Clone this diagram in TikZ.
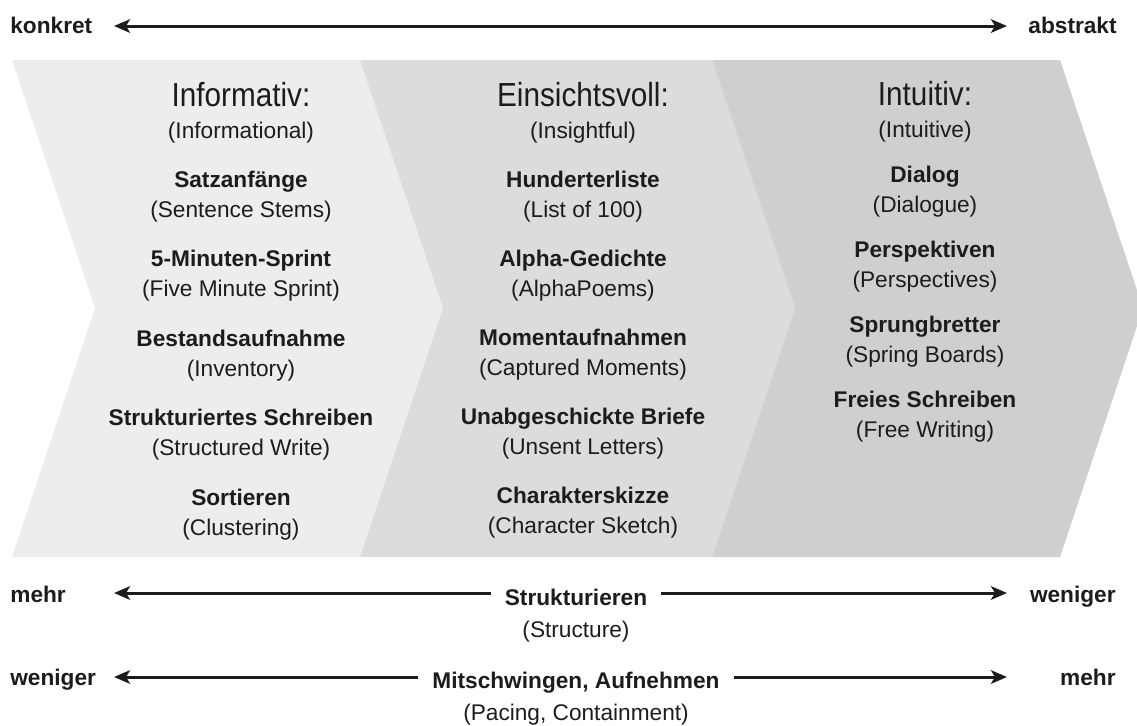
\documentclass[tikz,border=0pt]{standalone}
\usepackage{fontspec}
\setmainfont{Liberation Sans}
\newfontfamily\headfont[FakeStretch=0.89]{Liberation Sans}
\usetikzlibrary{arrows.meta,positioning}
\definecolor{Ink}{HTML}{1C1C1C}
\definecolor{StepA}{HTML}{EDEDED}
\definecolor{StepB}{HTML}{DCDCDC}
\definecolor{StepC}{HTML}{CFCFCF}
\tikzset{
  method/.style={anchor=base,inner sep=0pt,text=Ink,font=\fontsize{12.9}{15}\selectfont\bfseries},
  gloss/.style={anchor=base,inner sep=0pt,text=Ink,font=\fontsize{12.9}{15}\selectfont},
  heading/.style={anchor=base,inner sep=0pt,text=Ink,font=\headfont\fontsize{19}{22}\selectfont},
  scalearrow/.style={line width=1.7pt,draw=Ink,{Stealth[length=0.32cm,width=0.27cm,inset=0.08cm]}-{Stealth[length=0.32cm,width=0.27cm,inset=0.08cm]}},
  onarrow/.style={method,fill=white,inner xsep=0.28cm,inner ysep=0pt}
}

\begin{document}
\begin{tikzpicture}[x=0.02cm,y=-0.02cm]
    \useasboundingbox (0,0) rectangle (1137,725);
    % chevrons
    \begin{scope}
      \clip (0,0) rectangle (1137,725);
      \fill[StepA] (12,60) -- (360,60) -- (443,308) -- (360,557) -- (12,557) -- (95,308) -- cycle;
      \fill[StepB] (360,60) -- (712,60) -- (795,308) -- (712,557) -- (360,557) -- (443,308) -- cycle;
      \fill[StepC] (712,60) -- (1060,60) -- (1143,308) -- (1060,557) -- (712,557) -- (795,308) -- cycle;
    \end{scope}

    % konkret -- abstrakt
    \node[method,anchor=base west] (konkret) at (10,33) {konkret};
    \node[method,anchor=base east] (abstrakt) at (1117,33) {abstrakt};
    \coordinate (top-l) at (114,26);
    \coordinate (top-r) at (1007,26);
    \draw[scalearrow] (top-l) -- (top-r);

    % columns
    \node[heading] (informativ) at (241,106) {Informativ:};
    \node[gloss] (informational) at (241,138) {(Informational)};
    \foreach \m/\g [count=\i from 0] in {Satzanfänge/(Sentence Stems),5-Minuten-Sprint/(Five Minute Sprint),Bestandsaufnahme/(Inventory),Strukturiertes Schreiben/(Structured Write),Sortieren/(Clustering)}
    {
      \node[method] (info-m\i) at (241,{187+79.5*\i}) {\m};
      \node[gloss] (info-g\i) at (241,{217+79.5*\i}) {\g};
    }

    \node[heading] (einsichtsvoll) at (583,106) {Einsichtsvoll:};
    \node[gloss] (insightful) at (583,138) {(Insightful)};
    \foreach \m/\g [count=\i from 0] in {Hunderterliste/(List of 100),Alpha-Gedichte/(AlphaPoems),Momentaufnahmen/(Captured Moments),Unabgeschickte Briefe/(Unsent Letters),Charakterskizze/(Character Sketch)}
    {
      \node[method] (ein-m\i) at (583,{187+79*\i}) {\m};
      \node[gloss] (ein-g\i) at (583,{217+79*\i}) {\g};
    }

    \node[heading] (intuitiv) at (925,105) {Intuitiv:};
    \node[gloss] (intuitive) at (925,137) {(Intuitive)};
    \foreach \m/\g [count=\i from 0] in {Dialog/(Dialogue),Perspektiven/(Perspectives),Sprungbretter/(Spring Boards),Freies Schreiben/(Free Writing)}
    {
      \node[method] (int-m\i) at (925,{182+75*\i}) {\m};
      \node[gloss] (int-g\i) at (925,{212+75*\i}) {\g};
    }

    % structure
    \node[method,anchor=base west] (mehr-a) at (10,602) {mehr};
    \node[method,anchor=base east] (weniger-a) at (1116,602) {weniger};
    \coordinate (struct-l) at (114,593);
    \coordinate (struct-r) at (1007,593);
    \draw[scalearrow] (struct-l) -- (struct-r);
    \node[onarrow] (strukturieren) at (576,605) {Strukturieren};
    \node[gloss] (structure) at (576,637) {(Structure)};

    % pacing
    \node[method,anchor=base west] (weniger-b) at (10,685) {weniger};
    \node[method,anchor=base east] (mehr-b) at (1116,685) {mehr};
    \coordinate (pace-l) at (114,677);
    \coordinate (pace-r) at (1007,677);
    \draw[scalearrow] (pace-l) -- (pace-r);
    \node[onarrow] (mitschwingen) at (576,688) {Mitschwingen, Aufnehmen};
    \node[gloss] (pacing) at (576,720) {(Pacing, Containment)};
  \end{tikzpicture}
\end{document}
